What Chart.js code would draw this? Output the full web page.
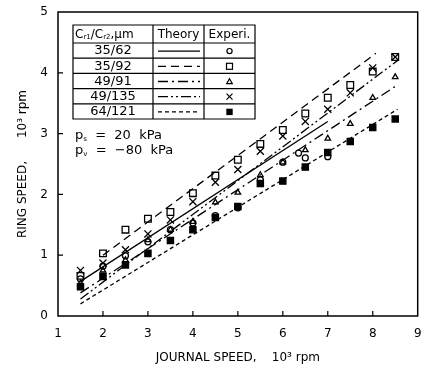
<!DOCTYPE html>
<html>
<head>
<meta charset="utf-8">
<script src="https://cdn.jsdelivr.net/npm/chart.js@4/dist/chart.umd.min.js"></script>
<style>
  body { margin: 0; background: #fff; }
</style>
</head>
<body>
<canvas id="myChart" width="424" height="369"></canvas>
<script>
// journal speed, 10^3 rpm
const journalSpeed = [1.5, 2, 2.5, 3, 3.5, 4, 4.5, 5, 5.5, 6, 6.5, 7, 7.5, 8, 8.5];

// measured ring speed, 10^3 rpm
const circleX   = [1.5, 2, 2.5, 3, 3.5, 4, 4.5, 5, 5.5, 6, 6.35, 6.5, 7];
const ring3562  = [0.61, 0.82, 0.99, 1.22, 1.42, 1.53, 1.65, 1.78, 2.24, 2.53, 2.68, 2.60, 2.62];
const ring3592  = [0.66, 1.03, 1.42, 1.60, 1.71, 2.02, 2.31, 2.57, 2.83, 3.06, 3.33, 3.59, 3.80, 4.02, 4.26];
const ring4991  = [0.54, 0.75, 0.92, 1.25, 1.42, 1.55, 1.87, 2.03, 2.32, 2.53, 2.73, 2.92, 3.16, 3.59, 3.93];
const ring49135 = [0.75, 0.87, 1.09, 1.35, 1.58, 1.88, 2.20, 2.41, 2.71, 2.96, 3.20, 3.40, 3.67, 4.08, 4.26];
const ring64121 = [0.48, 0.65, 0.84, 1.03, 1.24, 1.42, 1.62, 1.80, 2.18, 2.22, 2.45, 2.69, 2.87, 3.10, 3.24];

// theory lines (end points)
const theory3562X  = [1.5, 7.0];   const theory3562Y  = [0.57, 3.20];
const theory3592X  = [2.0, 8.07];  const theory3592Y  = [1.00, 4.32];
const theory4991X  = [1.5, 8.55];  const theory4991Y  = [0.38, 3.80];
const theory49135X = [1.5, 8.55];  const theory49135Y = [0.28, 4.20];
const theory64121X = [1.5, 8.55];  const theory64121Y = [0.20, 3.40];

const clearances = ['35/62', '35/92', '49/91', '49/135', '64/121'];
const xTicks = [1, 2, 3, 4, 5, 6, 7, 8, 9];
const yTicks = [0, 1, 2, 3, 4, 5];

const dashes = [[], [8, 5], [10, 4, 2, 4], [10, 3, 2, 3, 2, 3], [4, 3]];
const markers = ['circle', 'rect', 'triangle', 'crossRot', 'rectFilled'];

function pts(xs, ys) { return xs.map((x, i) => ({ x: x, y: ys[i] })); }

function lineSet(xs, ys, dash) {
  return { type: 'line', data: pts(xs, ys), borderColor: '#000', borderWidth: 1.3,
           borderDash: dash, pointRadius: 0, fill: false, showLine: true };
}
function pointSet(xs, ys, style, r, filled) {
  return { type: 'scatter', data: pts(xs, ys), pointStyle: style, pointRadius: r,
           borderColor: '#000', borderWidth: 1.3,
           backgroundColor: filled ? '#000' : 'rgba(0,0,0,0)' };
}

// small marker drawer for the table
function drawMark(ctx, kind, x, y) {
  ctx.save();
  ctx.setLineDash([]);
  ctx.lineWidth = 1.2;
  ctx.strokeStyle = '#000';
  ctx.fillStyle = '#000';
  ctx.beginPath();
  if (kind === 'circle') { ctx.arc(x, y, 2.6, 0, Math.PI * 2); ctx.stroke(); }
  else if (kind === 'rect') { ctx.strokeRect(x - 3, y - 3, 6, 6); }
  else if (kind === 'triangle') {
    ctx.moveTo(x, y - 2.8); ctx.lineTo(x + 2.8, y + 2.2); ctx.lineTo(x - 2.8, y + 2.2); ctx.closePath(); ctx.stroke();
  } else if (kind === 'crossRot') {
    ctx.moveTo(x - 3, y - 3); ctx.lineTo(x + 3, y + 3); ctx.moveTo(x + 3, y - 3); ctx.lineTo(x - 3, y + 3); ctx.stroke();
  } else { ctx.fillRect(x - 3.2, y - 3.2, 6.4, 6.4); }
  ctx.restore();
}

// draw a run of [text, size, dy] pieces left to right
function drawRun(ctx, parts, x, y) {
  parts.forEach(p => {
    ctx.font = p[1] + 'px "DejaVu Sans"';
    ctx.fillText(p[0], x, y + p[2]);
    x += ctx.measureText(p[0]).width;
  });
}

const decor = {
  id: 'decor',
  afterDraw(chart) {
    const ctx = chart.ctx;
    const a = chart.chartArea;
    const xs = chart.scales.x, ys = chart.scales.y;
    ctx.save();
    ctx.strokeStyle = '#000';
    ctx.fillStyle = '#000';
    // frame
    ctx.lineWidth = 1.5;
    ctx.strokeRect(a.left, a.top, a.right - a.left, a.bottom - a.top);
    // inward ticks
    ctx.lineWidth = 1.2;
    ctx.beginPath();
    xTicks.slice(1, -1).forEach(v => {
      const px = xs.getPixelForValue(v);
      ctx.moveTo(px, a.bottom); ctx.lineTo(px, a.bottom - 5);
    });
    yTicks.slice(1, -1).forEach(v => {
      const py = ys.getPixelForValue(v);
      ctx.moveTo(a.left, py); ctx.lineTo(a.left + 5, py);
    });
    ctx.stroke();

    // table
    const tl = 73, tr = 255, tt = 25;
    const c1 = 153, c2 = 204;
    const hh = 18, rh = 15.2;
    const tb = tt + hh + rh * clearances.length;
    ctx.fillStyle = '#fff';
    ctx.fillRect(tl, tt, tr - tl, tb - tt);
    ctx.fillStyle = '#000';
    ctx.lineWidth = 1.2;
    ctx.beginPath();
    ctx.rect(tl, tt, tr - tl, tb - tt);
    ctx.moveTo(c1, tt); ctx.lineTo(c1, tb);
    ctx.moveTo(c2, tt); ctx.lineTo(c2, tb);
    for (let i = 0; i < clearances.length; i++) {
      const yy = tt + hh + rh * i;
      ctx.moveTo(tl, yy); ctx.lineTo(tr, yy);
    }
    ctx.stroke();

    ctx.textBaseline = 'middle';
    ctx.textAlign = 'left';
    const hy = tt + hh / 2 + 1;
    drawRun(ctx, [['C', 12, 0], ['r1', 7, 2], ['/C', 12, 0], ['r2', 7, 2], [',\u00b5m', 12, 0]], tl + 2, hy);
    ctx.font = '12px "DejaVu Sans"';
    ctx.textAlign = 'center';
    ctx.fillText('Theory', (c1 + c2) / 2, hy);
    ctx.fillText('Experi.', (c2 + tr) / 2, hy);
    clearances.forEach((lab, i) => {
      const cy = tt + hh + rh * i + rh / 2 + 0.5;
      ctx.font = '13px "DejaVu Sans"';
      ctx.fillText(lab, (tl + c1) / 2, cy);
      ctx.save();
      ctx.lineWidth = 1.3;
      ctx.setLineDash(dashes[i]);
      ctx.beginPath();
      ctx.moveTo(c1 + 5, cy); ctx.lineTo(c2 - 4, cy);
      ctx.stroke();
      ctx.restore();
      drawMark(ctx, markers[i], (c2 + tr) / 2, cy);
    });

    // pressures
    ctx.textAlign = 'left';
    drawRun(ctx, [['p', 13, 0], ['s', 7, 3], ['  =  20  kPa', 13, 0]], 75, 136);
    drawRun(ctx, [['p', 13, 0], ['v', 7, 3], ['  =  \u221280  kPa', 13, 0]], 75, 151);
    ctx.restore();
  }
};

const ctx = document.getElementById('myChart');
new Chart(ctx, {
  type: 'scatter',
  data: {
    datasets: [
      lineSet(theory3562X, theory3562Y, dashes[0]),
      lineSet(theory3592X, theory3592Y, dashes[1]),
      lineSet(theory4991X, theory4991Y, dashes[2]),
      lineSet(theory49135X, theory49135Y, dashes[3]),
      lineSet(theory64121X, theory64121Y, dashes[4]),
      pointSet(circleX, ring3562, 'circle', 3, false),
      pointSet(journalSpeed, ring3592, 'rect', 4.7, false),
      pointSet(journalSpeed, ring4991, 'triangle', 3.2, false),
      pointSet(journalSpeed, ring49135, 'crossRot', 5, false),
      pointSet(journalSpeed, ring64121, 'rect', 4.4, true)
    ]
  },
  options: {
    responsive: false,
    animation: false,
    layout: { padding: { top: 12, right: 5, left: 0, bottom: 0 } },
    plugins: { legend: { display: false }, tooltip: { enabled: false } },
    scales: {
      x: {
        type: 'linear', min: 1, max: 9,
        afterBuildTicks: s => { s.ticks = xTicks.map(v => ({ value: v })); },
        ticks: { color: '#000', font: { family: 'DejaVu Sans', size: 12 }, padding: 11 },
        grid: { display: false, drawTicks: false },
        border: { display: false },
        title: { display: true, text: 'JOURNAL SPEED,    10\u00b3 rpm', color: '#000',
                 font: { family: 'DejaVu Sans', size: 12 }, padding: { top: 0, bottom: 4 } },
        afterFit: s => { s.height = 53; s.paddingRight = 0; s.paddingLeft = 0; }
      },
      y: {
        type: 'linear', min: 0, max: 5,
        afterBuildTicks: s => { s.ticks = yTicks.map(v => ({ value: v })); },
        ticks: { color: '#000', font: { family: 'DejaVu Sans', size: 12 }, padding: 10 },
        grid: { display: false, drawTicks: false },
        border: { display: false },
        title: { display: true, text: 'RING SPEED,      10\u00b3 rpm', color: '#000',
                 font: { family: 'DejaVu Sans', size: 12 }, padding: { top: 16, bottom: 0 } },
        afterFit: s => { s.width = 58; s.paddingTop = 0; s.paddingBottom = 0; }
      }
    }
  },
  plugins: [decor]
});
</script>
</body>
</html>
